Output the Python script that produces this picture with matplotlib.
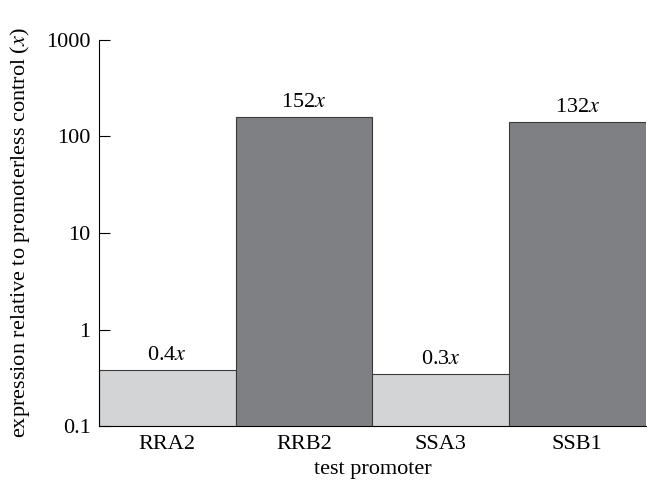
import numpy as np
import matplotlib.pyplot as plt
from matplotlib.ticker import FixedLocator, NullLocator

promoters = ["RRA2", "RRB2", "SSA3", "SSB1"]
heights = [0.385, 160, 0.345, 140]
labels = ["0.4", "152", "0.3", "132"]
colors = ["#d3d4d6", "#7f8084", "#d3d4d6", "#7f8084"]
yticks = [0.1, 1, 10, 100, 1000]
yticklabels = ["0.1", "1", "10", "100", "1000"]

plt.rcParams['font.family'] = ['Liberation Serif', 'DejaVu Serif']
plt.rcParams['mathtext.fontset'] = 'stix'
plt.rcParams['font.size'] = 16

fig = plt.figure(figsize=(6.47, 4.86), dpi=100)
ax = fig.add_axes([0.153, 0.123, 0.845, 0.795])

x = np.arange(len(promoters))
ax.bar(x, heights, width=1.0, color=colors, edgecolor="#3a3a3a", linewidth=0.8)
ax.set_yscale("log")
ax.set_ylim(0.1, 1000)
ax.set_xlim(-0.5, len(promoters) - 0.5)

for xi, h, lab in zip(x, heights, labels):
    ax.annotate(lab + r"$x$", (xi, h), xytext=(0, 3.5), textcoords="offset points",
                ha="center", va="bottom")

ax.yaxis.set_major_locator(FixedLocator(yticks))
ax.yaxis.set_minor_locator(NullLocator())
ax.set_yticklabels(yticklabels)
ax.tick_params(axis="y", direction="in", length=8, width=0.8, pad=6)
ax.tick_params(axis="x", length=0, pad=6)
ax.set_xticks(x)
ax.set_xticklabels(promoters)

for s in ["top", "right"]:
    ax.spines[s].set_visible(False)
ax.spines["left"].set_linewidth(0.8)
ax.spines["bottom"].set_linewidth(0.8)

ax.set_xlabel("test promoter", labelpad=5)
ax.set_ylabel(r"expression relative to promoterless control ($x$)", labelpad=10)

fig.savefig("out.png", dpi=100)
